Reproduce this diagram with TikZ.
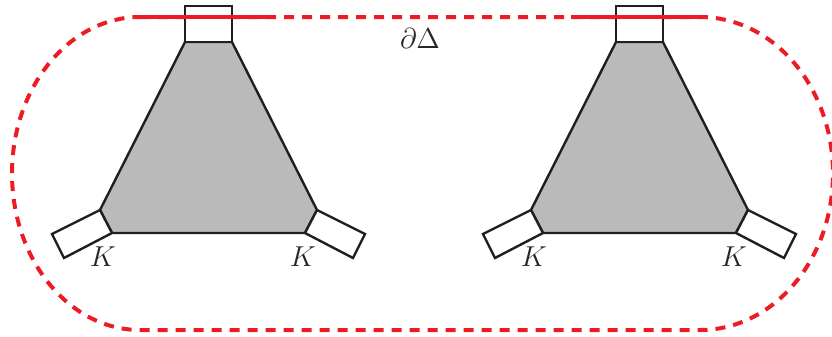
\documentclass[tikz,border=0pt]{standalone}
\usetikzlibrary{calc}
\definecolor{bdryred}{RGB}{237,28,36}
\tikzset{
    vertexbody/.style={draw=black!88, fill=black!27, line width=1.2pt, line join=miter},
    legbox/.style={draw=black!88, fill=white, line width=1.2pt},
    bdryline/.style={draw=bdryred, line width=2pt},
    bdrydash/.style={bdryline, dash pattern=on 5pt off 4pt},
    klabel/.style={font=\Large, text=black!85},
}

\begin{document}
\begin{tikzpicture}[x=0.5pt, y=-0.5pt]
\useasboundingbox (0,0) rectangle (832,337);
% boundary of the region
\draw[bdrydash] (140,17) -- (700,17)
    arc[start angle=-90, end angle=90, x radius=133, y radius=156.5]
    -- (140,330)
    arc[start angle=90, end angle=270, x radius=128, y radius=156.5] -- cycle;
% the two vertices
\foreach \dx/\n in {0/a, 431/b} {
  \begin{scope}[shift={(\dx,0)}]
    \draw[vertexbody] (185,42) -- (232,42) -- (317,210) -- (305,233) -- (112,233) -- (100,210) -- cycle;
    \draw[legbox] (185,6) rectangle (232,42);
    \draw[legbox] (100,210) -- (112,233) -- (64,258) -- (52,234) -- cycle;
    \draw[legbox] (317,210) -- (305,233) -- (353,258) -- (365,234) -- cycle;
    \node[klabel] (kl\n) at (103,257) {$K$};
    \node[klabel] (kr\n) at (303,257) {$K$};
    \draw[bdryline] (140,17) -- (273,17);
  \end{scope}
}
\node[klabel] (bdry) at (420,38) {$\partial\Delta$};
\end{tikzpicture}
\end{document}
